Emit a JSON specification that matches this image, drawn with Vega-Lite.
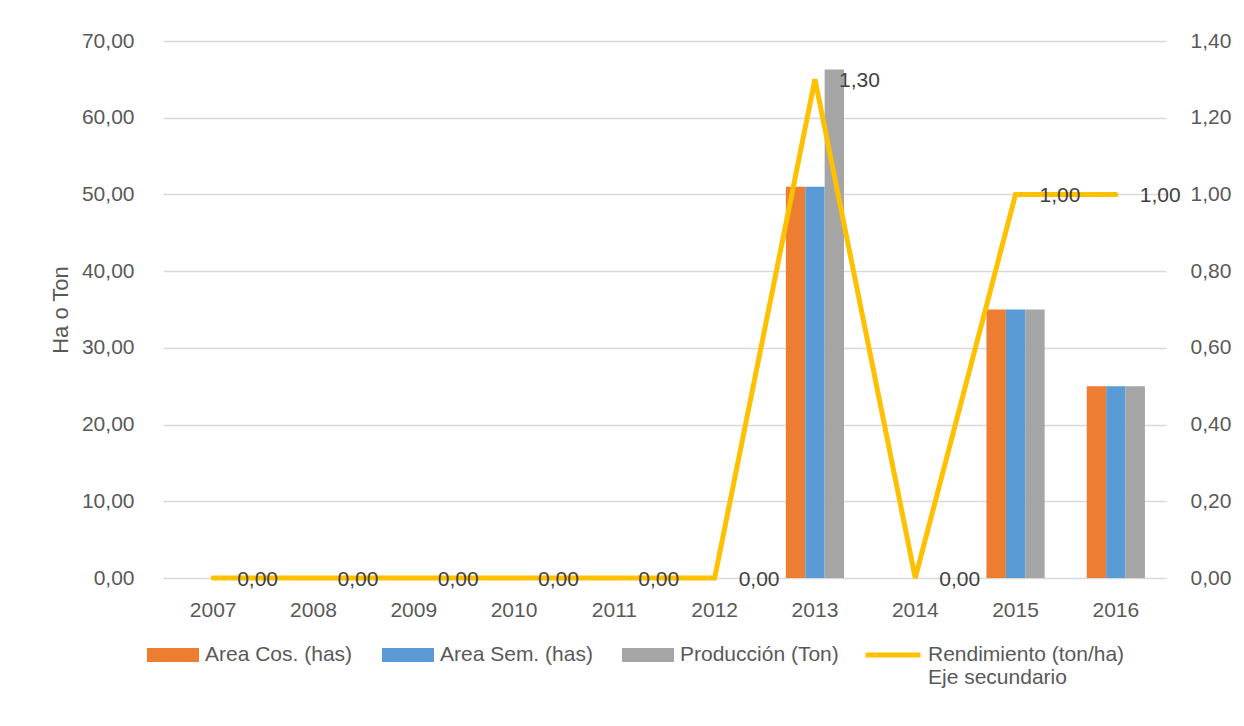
{
  "$schema": "https://vega.github.io/schema/vega-lite/v6.json",
  "autosize": "none",
  "width": 1003,
  "height": 537,
  "padding": {"left": 163, "top": 41, "right": 78, "bottom": 148},
  "background": "white",
  "datasets": {
    "bars": [
      {"year": "2007", "serie": "Area Cos. (has)", "valor": 0},
      {"year": "2007", "serie": "Area Sem. (has)", "valor": 0},
      {"year": "2007", "serie": "Producción (Ton)", "valor": 0},
      {"year": "2008", "serie": "Area Cos. (has)", "valor": 0},
      {"year": "2008", "serie": "Area Sem. (has)", "valor": 0},
      {"year": "2008", "serie": "Producción (Ton)", "valor": 0},
      {"year": "2009", "serie": "Area Cos. (has)", "valor": 0},
      {"year": "2009", "serie": "Area Sem. (has)", "valor": 0},
      {"year": "2009", "serie": "Producción (Ton)", "valor": 0},
      {"year": "2010", "serie": "Area Cos. (has)", "valor": 0},
      {"year": "2010", "serie": "Area Sem. (has)", "valor": 0},
      {"year": "2010", "serie": "Producción (Ton)", "valor": 0},
      {"year": "2011", "serie": "Area Cos. (has)", "valor": 0},
      {"year": "2011", "serie": "Area Sem. (has)", "valor": 0},
      {"year": "2011", "serie": "Producción (Ton)", "valor": 0},
      {"year": "2012", "serie": "Area Cos. (has)", "valor": 0},
      {"year": "2012", "serie": "Area Sem. (has)", "valor": 0},
      {"year": "2012", "serie": "Producción (Ton)", "valor": 0},
      {"year": "2013", "serie": "Area Cos. (has)", "valor": 51},
      {"year": "2013", "serie": "Area Sem. (has)", "valor": 51},
      {"year": "2013", "serie": "Producción (Ton)", "valor": 66.3},
      {"year": "2014", "serie": "Area Cos. (has)", "valor": 0},
      {"year": "2014", "serie": "Area Sem. (has)", "valor": 0},
      {"year": "2014", "serie": "Producción (Ton)", "valor": 0},
      {"year": "2015", "serie": "Area Cos. (has)", "valor": 35},
      {"year": "2015", "serie": "Area Sem. (has)", "valor": 35},
      {"year": "2015", "serie": "Producción (Ton)", "valor": 35},
      {"year": "2016", "serie": "Area Cos. (has)", "valor": 25},
      {"year": "2016", "serie": "Area Sem. (has)", "valor": 25},
      {"year": "2016", "serie": "Producción (Ton)", "valor": 25}
    ],
    "line": [
      {"year": "2007", "serie": "Rendimiento (ton/ha)", "rend": 0},
      {"year": "2008", "serie": "Rendimiento (ton/ha)", "rend": 0},
      {"year": "2009", "serie": "Rendimiento (ton/ha)", "rend": 0},
      {"year": "2010", "serie": "Rendimiento (ton/ha)", "rend": 0},
      {"year": "2011", "serie": "Rendimiento (ton/ha)", "rend": 0},
      {"year": "2012", "serie": "Rendimiento (ton/ha)", "rend": 0},
      {"year": "2013", "serie": "Rendimiento (ton/ha)", "rend": 1.3},
      {"year": "2014", "serie": "Rendimiento (ton/ha)", "rend": 0},
      {"year": "2015", "serie": "Rendimiento (ton/ha)", "rend": 1.0},
      {"year": "2016", "serie": "Rendimiento (ton/ha)", "rend": 1.0}
    ]
  },
  "layer": [
    {
      "data": {"name": "bars"},
      "mark": {"type": "bar"},
      "encoding": {
        "x": {
          "field": "year", "type": "nominal",
          "scale": {"paddingInner": 0.42, "paddingOuter": 0.21},
          "axis": {"title": null, "labelAngle": 0, "domain": false, "ticks": false, "labelPadding": 21, "grid": false}
        },
        "xOffset": {"field": "serie", "type": "nominal", "sort": ["Area Cos. (has)", "Area Sem. (has)", "Producción (Ton)"]},
        "y": {
          "field": "valor", "type": "quantitative",
          "scale": {"domain": [0, 70]},
          "axis": {"title": "Ha o Ton", "values": [0, 10, 20, 30, 40, 50, 60, 70], "format": ".2f", "grid": true, "domain": false, "ticks": false, "labelPadding": 29, "titlePadding": 9, "orient": "left"}
        },
        "color": {
          "field": "serie", "type": "nominal",
          "scale": {"domain": ["Area Cos. (has)", "Area Sem. (has)", "Producción (Ton)"], "range": ["#ED7D31", "#5B9BD5", "#A5A5A5"]},
          "legend": {"title": null, "orient": "none", "legendX": -16, "legendY": 588, "direction": "horizontal", "symbolType": "M-1,-0.27H1V0.27H-1Z", "symbolSize": 2704, "symbolStrokeWidth": 0, "columnPadding": 29, "labelOffset": 6}
        }
      }
    },
    {
      "data": {"name": "line"},
      "encoding": {
        "x": {"field": "year", "type": "nominal"},
        "y": {
          "field": "rend", "type": "quantitative",
          "scale": {"domain": [0, 1.4]},
          "axis": {"title": null, "orient": "right", "values": [0, 0.2, 0.4, 0.6, 0.8, 1.0, 1.2, 1.4], "format": ".2f", "grid": false, "domain": false, "ticks": false, "labelPadding": 24}
        }
      },
      "layer": [
        {
          "mark": {"type": "line", "strokeWidth": 5, "strokeCap": "round"},
          "encoding": {
            "stroke": {
              "field": "serie", "type": "nominal",
              "scale": {"range": ["#FFC000"]},
              "legend": {"title": null, "orient": "none", "legendX": 700, "legendY": 584, "symbolType": "stroke", "symbolSize": 3025, "symbolStrokeWidth": 5, "labelOffset": 5, "labelExpr": "['Rendimiento (ton/ha)', 'Eje secundario']"}
            }
          }
        },
        {
          "mark": {"type": "text", "align": "left", "baseline": "middle", "dx": 24, "dy": 2, "color": "#404040", "fontSize": 21},
          "encoding": {
            "text": {"field": "rend", "type": "quantitative", "format": ".2f"}
          }
        }
      ]
    }
  ],
  "resolve": {"scale": {"y": "independent"}},
  "config": {
    "locale": {"number": {"decimal": ",", "thousands": ".", "grouping": [3], "currency": ["", " €"]}},
    "view": {"stroke": null},
    "font": "Liberation Sans",
    "axis": {"labelFont": "Liberation Sans", "labelFontSize": 21, "labelColor": "#595959", "titleFont": "Liberation Sans", "titleFontSize": 22, "titleColor": "#595959", "titleFontWeight": "normal", "gridColor": "#D9D9D9", "gridWidth": 1.3},
    "legend": {"labelFont": "Liberation Sans", "labelFontSize": 21, "labelColor": "#595959", "labelLimit": 400}
  }
}
